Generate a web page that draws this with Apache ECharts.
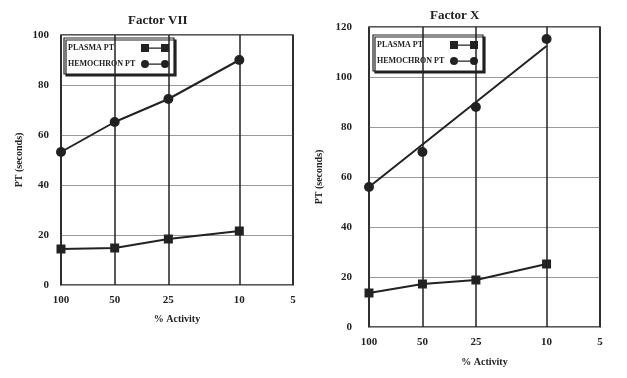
<!DOCTYPE html>
<html>
<head>
<meta charset="utf-8">
<script src="https://cdn.jsdelivr.net/npm/echarts@6/dist/echarts.min.js"></script>
<style>html,body{margin:0;padding:0;background:#fff;}#c{width:627px;height:378px;}</style>
</head>
<body>
<div id="c"></div>
<script>
// ---- data ----
const activity = [100, 50, 25, 10];
const xTicks = [100, 50, 25, 10, 5];
const f7Plasma = [14.4, 14.8, 18.4, 21.6];
const f7Hemo = [53.2, 65.2, 74.4, 90];
const fxPlasma = [13.6, 17.2, 18.8, 25.2];
const fxHemo = [56, 70, 88, 115.2];
const fxHemoFitX = [100, 10];
const fxHemoFit = [56, 112.4];
const titles = ['Factor VII', 'Factor X'];
const seriesNames = ['PLASMA PT', 'HEMOCHRON PT'];

const ink = '#222';
const font = 'Liberation Serif';
const pairs = (xs, ys) => xs.map((x, i) => [x, ys[i]]);

const sqIcon = 'path://M0,0h8v8h-8z M8,3.4h12v1.4h-12z M20,0h8v8h-8z';
const ciIcon = 'path://M4,0A4,4 0 1,1 4,8A4,4 0 1,1 4,0Z M8,3.4h12v1.4h-12z M24,0A4,4 0 1,1 24,8A4,4 0 1,1 24,0Z';

function vLines() {
  return {
    silent: true, symbol: 'none', animation: false,
    lineStyle: { color: ink, width: 1.5, type: 'solid' },
    label: { show: true, position: 'start', distance: 10, formatter: p => String(p.value),
             color: ink, fontFamily: font, fontWeight: 'bold', fontSize: 11 },
    data: xTicks.map(v => ({ xAxis: v }))
  };
}

function legend(left, top) {
  return {
    left: left, top: top, orient: 'vertical', align: 'right',
    itemWidth: 28, itemHeight: 8, itemGap: 8,
    padding: [6, 5, 6, 4],
    borderColor: ink, borderWidth: 1.2, backgroundColor: '#fff',
    shadowColor: ink, shadowBlur: 0, shadowOffsetX: 2, shadowOffsetY: 2,
    selectedMode: false,
    formatter: n => '{a|' + n + '}',
    textStyle: { rich: { a: { width: 68, align: 'left', fontFamily: font, fontWeight: 'bold', fontSize: 8, color: ink } } },
    data: [{ name: seriesNames[0], icon: sqIcon }, { name: seriesNames[1], icon: ciIcon }]
  };
}

const xAxisBase = {
  type: 'log', inverse: true, min: 5, max: 100, logBase: 10,
  axisLine: { show: false }, axisTick: { show: false }, axisLabel: { show: false },
  splitLine: { show: false },
  name: '% Activity', nameLocation: 'middle',
  nameTextStyle: { color: ink, fontFamily: font, fontWeight: 'bold', fontSize: 10 }
};
const yAxisBase = {
  type: 'value', min: 0, interval: 20,
  axisLine: { show: false }, axisTick: { show: false },
  axisLabel: { color: ink, fontFamily: font, fontWeight: 'bold', fontSize: 11 },
  splitLine: { show: true, lineStyle: { color: '#9a9a9a', width: 1 } },
  name: 'PT (seconds)', nameLocation: 'middle', nameRotate: 90,
  nameTextStyle: { color: ink, fontFamily: font, fontWeight: 'bold', fontSize: 10 }
};

const option = {
  animation: false,
  backgroundColor: '#fff',
  title: [
    { text: titles[0], left: 123, top: 9, textStyle: { color: ink, fontFamily: font, fontWeight: 'bold', fontSize: 13 } },
    { text: titles[1], left: 425, top: 4, textStyle: { color: ink, fontFamily: font, fontWeight: 'bold', fontSize: 13 } }
  ],
  legend: [legend(64, 38), legend(373, 35)],
  grid: [
    { left: 61, top: 35, width: 232, height: 250, show: true, borderColor: ink, borderWidth: 1.5, backgroundColor: 'transparent' },
    { left: 369, top: 27, width: 231, height: 300, show: true, borderColor: ink, borderWidth: 1.5, backgroundColor: 'transparent' }
  ],
  xAxis: [
    Object.assign({}, xAxisBase, { gridIndex: 0, nameGap: 29 }),
    Object.assign({}, xAxisBase, { gridIndex: 1, nameGap: 30 })
  ],
  yAxis: [
    Object.assign({}, yAxisBase, { gridIndex: 0, max: 100, nameGap: 37, axisLabel: Object.assign({}, yAxisBase.axisLabel, { margin: 12 }) }),
    Object.assign({}, yAxisBase, { gridIndex: 1, max: 120, nameGap: 45, axisLabel: Object.assign({}, yAxisBase.axisLabel, { margin: 17 }) })
  ],
  series: [
    { name: seriesNames[0], type: 'line', xAxisIndex: 0, yAxisIndex: 0, data: pairs(activity, f7Plasma),
      symbol: 'rect', symbolSize: 9, lineStyle: { color: ink, width: 2 }, itemStyle: { color: ink, opacity: 1 },
      markLine: vLines(), z: 3 },
    { name: seriesNames[1], type: 'line', xAxisIndex: 0, yAxisIndex: 0, data: pairs(activity, f7Hemo),
      symbol: 'circle', symbolSize: 10, lineStyle: { color: ink, width: 2 }, itemStyle: { color: ink, opacity: 1 }, z: 3 },
    { name: seriesNames[0], type: 'line', xAxisIndex: 1, yAxisIndex: 1, data: pairs(activity, fxPlasma),
      symbol: 'rect', symbolSize: 9, lineStyle: { color: ink, width: 2 }, itemStyle: { color: ink, opacity: 1 },
      markLine: vLines(), z: 3 },
    { name: seriesNames[1], type: 'scatter', xAxisIndex: 1, yAxisIndex: 1, data: pairs(activity, fxHemo),
      symbol: 'circle', symbolSize: 10, itemStyle: { color: ink, opacity: 1 }, z: 3 },
    { name: seriesNames[1] + ' fit', type: 'line', xAxisIndex: 1, yAxisIndex: 1, data: pairs(fxHemoFitX, fxHemoFit),
      symbol: 'none', lineStyle: { color: ink, width: 2 }, z: 3 }
  ]
};

const chart = echarts.init(document.getElementById('c'), null, { renderer: 'canvas' });
chart.setOption(option);
</script>
</body>
</html>
